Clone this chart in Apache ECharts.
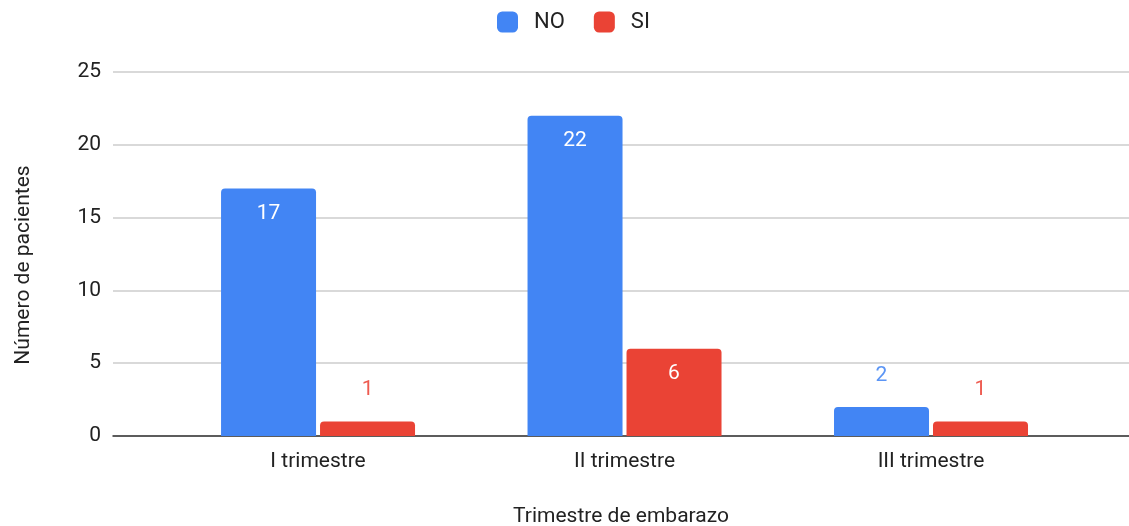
<!DOCTYPE html>
<html>
<head>
<meta charset="utf-8">
<script src="https://cdn.jsdelivr.net/npm/echarts@6/dist/echarts.min.js"></script>
<style>
  html, body { margin: 0; padding: 0; background: #fff; }
  #graph { width: 1129px; height: 526px; }
</style>
</head>
<body>
<div id="graph"></div>
<script>
// datos
const trimestres = ['I trimestre', 'II trimestre', 'III trimestre']
const pacientesNo = [17, 22, 2]
const pacientesSi = [1, 6, 1]
const yTicks = [0, 5, 10, 15, 20, 25]

const blue = '#4285F4'
const red = '#EA4335'
const font = 'Roboto'

// la etiqueta va dentro de la barra si cabe, si no encima
function labelFor(value, color) {
  if (value >= 5) {
    return { show: true, position: 'insideTop', distance: 15, color: '#fff' }
  }
  return { show: true, position: 'top', distance: 21, color: color }
}

function toPoints(values, color) {
  return values.map((v, i) => ({ value: [i, v], label: labelFor(v, color) }))
}

let graph = echarts.init(document.getElementById('graph'))
graph.setOption({
  backgroundColor: '#fff',
  textStyle: { fontFamily: font },
  legend: {
    data: ['NO', 'SI'],
    top: 11,
    left: 497,
    padding: 0,
    itemWidth: 21,
    itemHeight: 21,
    itemGap: 29,
    icon: 'roundRect',
    textStyle: { fontSize: 22, color: '#222', fontFamily: font, padding: [0, 0, 0, 11] }
  },
  grid: { left: 113, right: 0, top: 72, bottom: 90, containLabel: false, outerBoundsMode: 'none' },
  xAxis: {
    type: 'value',
    min: -0.669,
    max: 2.646,
    name: 'Trimestre de embarazo',
    nameLocation: 'middle',
    nameGap: 70,
    nameTextStyle: { fontSize: 21, color: '#222', fontFamily: font },
    axisLine: { show: true, onZero: false, lineStyle: { color: '#333', width: 1.5 } },
    axisTick: { show: false },
    splitLine: { show: false },
    axisLabel: {
      customValues: [0, 1, 2],
      formatter: v => trimestres[Math.round(v)],
      fontSize: 21,
      color: '#222',
      margin: 15
    }
  },
  yAxis: {
    type: 'value',
    min: yTicks[0],
    max: yTicks[yTicks.length - 1],
    interval: 5,
    name: 'Número de pacientes',
    nameLocation: 'middle',
    nameGap: 79,
    nameTextStyle: { fontSize: 21, color: '#222', fontFamily: font, padding: [0, 22, 0, 0] },
    axisLine: { show: false },
    axisTick: { show: false },
    splitLine: { lineStyle: { color: '#cccccc', width: 1.5 } },
    axisLabel: { fontSize: 21, color: '#222', margin: 12 }
  },
  series: [
    {
      name: 'NO',
      type: 'bar',
      barWidth: 95,
      barGap: '4.2%',
      itemStyle: { color: blue, borderRadius: [4, 4, 0, 0] },
      label: { fontSize: 21, fontFamily: font },
      data: toPoints(pacientesNo, '#5B95F5')
    },
    {
      name: 'SI',
      type: 'bar',
      barWidth: 95,
      barGap: '4.2%',
      itemStyle: { color: red, borderRadius: [4, 4, 0, 0] },
      label: { fontSize: 21, fontFamily: font },
      data: toPoints(pacientesSi, '#EE5B50')
    }
  ]
})
</script>
</body>
</html>
